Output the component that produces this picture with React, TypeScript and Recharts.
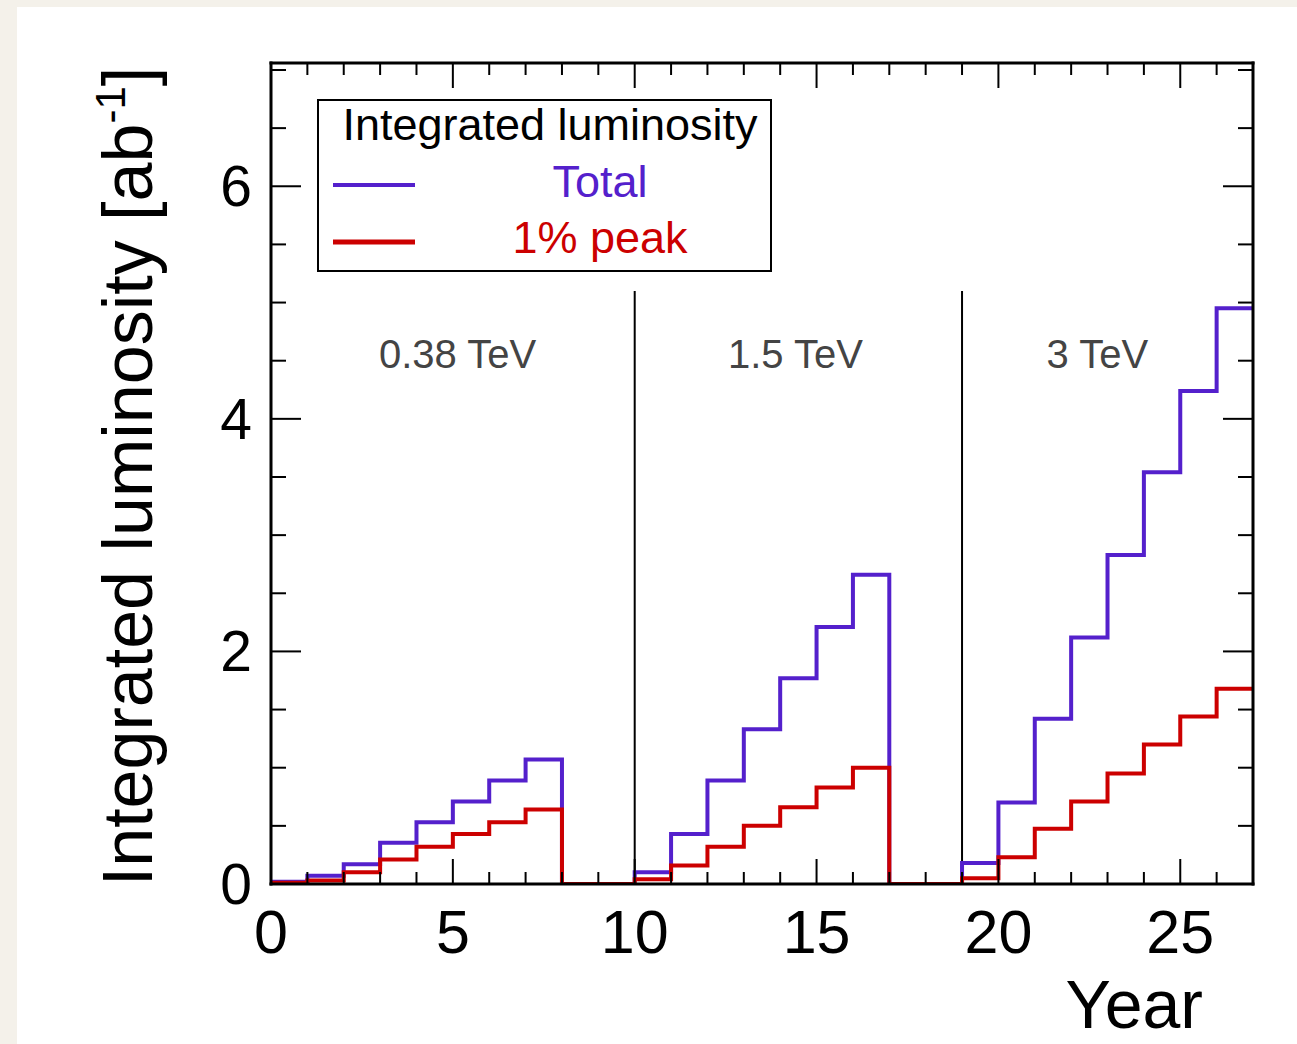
import React from 'react';
import {
  ComposedChart,
  Line,
  XAxis,
  YAxis,
  ReferenceLine,
  ReferenceDot,
  Legend,
} from 'recharts';

// bin edges (years) and integrated luminosity per bin [ab^-1]
const binEdges = [0, 1, 2, 3, 4, 5, 6, 7, 8, 9, 10, 11, 12, 13, 14, 15, 16, 17, 18, 19, 20, 21, 22, 23, 24, 25, 26, 27];
const totalLumi = [0.02, 0.07, 0.17, 0.355, 0.53, 0.71, 0.89, 1.07, 0, 0, 0.1, 0.43, 0.89, 1.33, 1.77, 2.21, 2.66, 0, 0, 0.18, 0.7, 1.42, 2.12, 2.83, 3.54, 4.24, 4.95];
const peakLumi = [0.01, 0.03, 0.1, 0.21, 0.32, 0.43, 0.53, 0.64, 0, 0, 0.04, 0.16, 0.32, 0.5, 0.66, 0.83, 1.0, 0, 0, 0.05, 0.23, 0.475, 0.71, 0.95, 1.2, 1.44, 1.68];

const xTicks = binEdges;
const yTicks = [0, 0.5, 1, 1.5, 2, 2.5, 3, 3.5, 4, 4.5, 5, 5.5, 6, 6.5, 7];

// energy stages
const stageEdges = [10, 19];
const stageLabels = ['0.38 TeV', '1.5 TeV', '3 TeV'];
const stageLabelX = [5.13, 14.42, 22.72];

const legendOrder = ['total', 'peak'];

const FONT = '"Liberation Sans", Arial, Helvetica, sans-serif';
const BLUE = '#5420cc';
const RED = '#cc0000';
const STAGE_LINE_TOP = 5.1;
const STAGE_LABEL_Y = 4.44;

const data = binEdges.map((x, i) => ({
  year: x,
  total: i < totalLumi.length ? totalLumi[i] : totalLumi[totalLumi.length - 1],
  peak: i < peakLumi.length ? peakLumi[i] : peakLumi[peakLumi.length - 1],
}));

const BottomTick = (props: any) => {
  const { x, y, payload } = props;
  const v = payload.value;
  const major = v % 5 === 0;
  return (
    <g>
      <line x1={x} x2={x} y1={y} y2={y - (major ? 25 : 12)} stroke="#000" strokeWidth={2} />
      {major && (
        <text x={x} y={y + 69} textAnchor="middle" fontSize={61} fontFamily={FONT} fill="#000">
          {v}
        </text>
      )}
    </g>
  );
};

const TopTick = (props: any) => {
  const { x, y, payload } = props;
  const major = payload.value % 5 === 0;
  return <line x1={x} x2={x} y1={y} y2={y + (major ? 25 : 12)} stroke="#000" strokeWidth={2} />;
};

const LeftTick = (props: any) => {
  const { x, y, payload } = props;
  const v = payload.value;
  const major = v % 2 === 0;
  return (
    <g>
      <line x1={x} x2={x + (major ? 30 : 15)} y1={y} y2={y} stroke="#000" strokeWidth={2} />
      {major && (
        <text x={x - 19} y={y + 20} textAnchor="end" fontSize={57} fontFamily={FONT} fill="#000">
          {v}
        </text>
      )}
    </g>
  );
};

const RightTick = (props: any) => {
  const { x, y, payload } = props;
  const major = payload.value % 2 === 0;
  return <line x1={x} x2={x - (major ? 30 : 15)} y1={y} y2={y} stroke="#000" strokeWidth={2} />;
};

const YTitle = (props: any) => {
  const vb = props.viewBox;
  const cx = vb.x + 152;
  const cy = vb.y + vb.height / 2 + 3;
  return (
    <text
      x={cx}
      y={cy}
      transform={`rotate(-90, ${cx}, ${cy})`}
      textAnchor="middle"
      fontSize={70}
      fontFamily={FONT}
      fill="#000"
    >
      Integrated luminosity [ab
      <tspan dy={-27} fontSize={42}>-1</tspan>
      <tspan dy={27}>]</tspan>
    </text>
  );
};

const XTitle = (props: any) => {
  const vb = props.viewBox;
  return (
    <text x={vb.x + vb.width - 50} y={vb.y + 144} textAnchor="end" fontSize={68} fontFamily={FONT} fill="#000">
      Year
    </text>
  );
};

const StageLabel = (text: string) => (props: any) => (
  <text x={props.cx} y={props.cy} textAnchor="middle" fontSize={40} fontFamily={FONT} fill="#444">
    {text}
  </text>
);

const renderLegend = (props: any) => {
  const raw = props.payload || [];
  const items = legendOrder
    .map((k) => raw.find((it: any) => it.dataKey === k))
    .filter(Boolean);
  return (
    <svg width={455} height={173} style={{ display: 'block' }}>
      <rect x={1} y={1} width={453} height={171} fill="#fff" stroke="#000" strokeWidth={2} />
      <text x={233} y={41} textAnchor="middle" fontSize={45} fontFamily={FONT} fill="#000">
        Integrated luminosity
      </text>
      {items.map((it: any, i: number) => (
        <g key={it.value}>
          <line x1={16} x2={98} y1={86 + i * 57} y2={86 + i * 57} stroke={it.color} strokeWidth={i === 0 ? 4 : 5} />
          <text x={283} y={98 + i * 56} textAnchor="middle" fontSize={45} fontFamily={FONT} fill={it.color}>
            {it.value}
          </text>
        </g>
      ))}
    </svg>
  );
};

export default function App() {
  return (
    <div style={{ position: 'absolute', left: 0, top: 0, width: 1297, height: 1044, background: '#f4f1ea' }}>
      <div style={{ position: 'absolute', left: 17, top: 7, width: 1280, height: 1037, background: '#fff' }} />
      <div style={{ position: 'absolute', left: 0, top: 0 }}>
        <ComposedChart width={1297} height={1044} data={data} margin={{ top: 62, right: 43, left: 0, bottom: 0 }}>
          <XAxis
            xAxisId="b"
            dataKey="year"
            type="number"
            domain={[0, 27]}
            ticks={xTicks}
            interval={0}
            allowDataOverflow
            height={160}
            tickSize={0}
            tickMargin={0}
            tickLine={false}
            tick={BottomTick}
            axisLine={{ stroke: '#000', strokeWidth: 3, strokeLinecap: 'square' }}
            label={XTitle}
          />
          <XAxis
            xAxisId="t"
            orientation="top"
            dataKey="year"
            type="number"
            domain={[0, 27]}
            ticks={xTicks}
            interval={0}
            allowDataOverflow
            height={1}
            tickSize={0}
            tickMargin={0}
            tickLine={false}
            tick={TopTick}
            axisLine={{ stroke: '#000', strokeWidth: 3, strokeLinecap: 'square' }}
          />
          <YAxis
            yAxisId="l"
            type="number"
            domain={[0, 7.06]}
            ticks={yTicks}
            interval={0}
            allowDataOverflow
            width={271}
            tickSize={0}
            tickMargin={0}
            tickLine={false}
            tick={LeftTick}
            axisLine={{ stroke: '#000', strokeWidth: 3, strokeLinecap: 'square' }}
            label={YTitle}
          />
          <YAxis
            yAxisId="r"
            orientation="right"
            type="number"
            domain={[0, 7.06]}
            ticks={yTicks}
            interval={0}
            allowDataOverflow
            width={1}
            tickSize={0}
            tickMargin={0}
            tickLine={false}
            tick={RightTick}
            axisLine={{ stroke: '#000', strokeWidth: 3, strokeLinecap: 'square' }}
          />
          <Legend
            content={renderLegend}
            layout="horizontal"
            verticalAlign="middle"
            align="center"
            wrapperStyle={{ position: 'absolute', left: 317, top: 99, width: 455, height: 173 }}
          />
          {stageEdges.map((x) => (
            <ReferenceLine
              key={x}
              xAxisId="b"
              yAxisId="l"
              segment={[{ x, y: 0 }, { x, y: STAGE_LINE_TOP }]}
              stroke="#000"
              strokeWidth={2}
            />
          ))}
          {stageLabels.map((s, i) => (
            <ReferenceDot
              key={s}
              xAxisId="b"
              yAxisId="l"
              x={stageLabelX[i]}
              y={STAGE_LABEL_Y}
              r={0}
              shape={StageLabel(s)}
            />
          ))}
          <Line
            xAxisId="b"
            yAxisId="l"
            type="stepAfter"
            dataKey="total"
            name="Total"
            stroke={BLUE}
            strokeWidth={4}
            dot={false}
            activeDot={false}
            isAnimationActive={false}
          />
          <Line
            xAxisId="b"
            yAxisId="l"
            type="stepAfter"
            dataKey="peak"
            name="1% peak"
            stroke={RED}
            strokeWidth={4}
            dot={false}
            activeDot={false}
            isAnimationActive={false}
          />
        </ComposedChart>
      </div>
    </div>
  );
}
